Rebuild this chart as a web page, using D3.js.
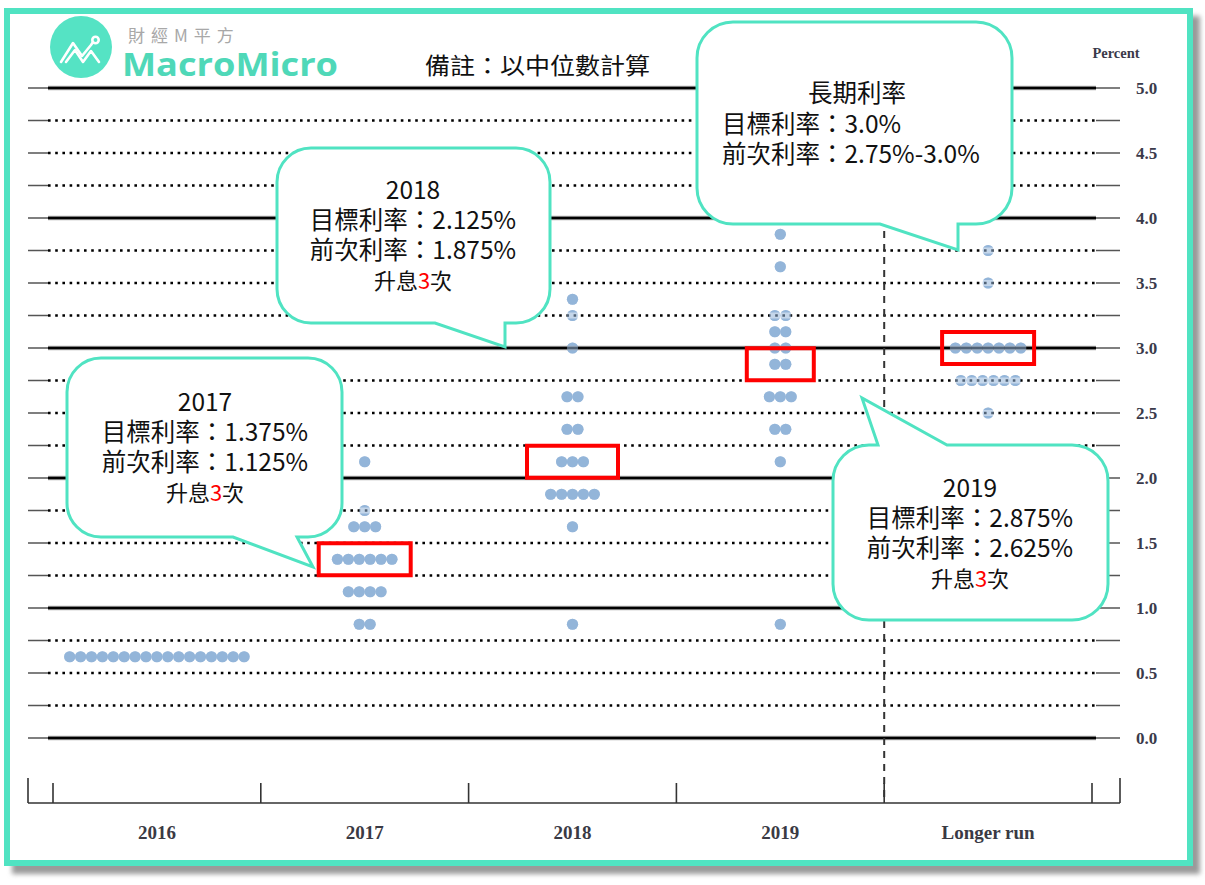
<!DOCTYPE html>
<html>
<head>
<meta charset="utf-8">
<script src="https://cdn.jsdelivr.net/npm/d3@7"></script>
<style>
  body { margin: 0; background: #fff; }
  svg { display: block; }
</style>
</head>
<body>
<svg id="chart" width="1205" height="885"></svg>
<script>
// columns of the dot plot
var years = ["2016", "2017", "2018", "2019", "Longer run"];

// [rate, number of participants] per column
var dots2016 = [[0.625, 17]];
var dots2017 = [[2.125, 1], [1.75, 1], [1.625, 3], [1.375, 6], [1.125, 4], [0.875, 2]];
var dots2018 = [[3.375, 1], [3.25, 1], [3.0, 1], [2.625, 2], [2.375, 2], [2.125, 3], [1.875, 5], [1.625, 1], [0.875, 1]];
var dots2019 = [[3.875, 1], [3.625, 1], [3.25, 2], [3.125, 2], [3.0, 2], [2.875, 2], [2.625, 3], [2.375, 2], [2.125, 1], [0.875, 1]];
var dotsLonger = [[3.75, 1], [3.5, 1], [3.0, 7], [2.75, 6], [2.5, 1]];

// medians highlighted with red boxes
var medianYears = ["2017", "2018", "2019", "Longer run"];
var medianRates = [1.375, 2.125, 2.875, 3.0];

var rateTicks = d3.range(0, 5.001, 0.25);
var labelTicks = d3.range(0, 5.001, 0.5);

// callout texts
var noteLR = ["長期利率", "目標利率：3.0%", "前次利率：2.75%-3.0%"];
var note2018 = ["2018", "目標利率：2.125%", "前次利率：1.875%"];
var note2017 = ["2017", "目標利率：1.375%", "前次利率：1.125%"];
var note2019 = ["2019", "目標利率：2.875%", "前次利率：2.625%"];

var TEAL = "#50e3c2";
var CJK = "'Noto Sans CJK TC', 'Noto Sans', sans-serif";
var SERIF = "'Liberation Serif', 'DejaVu Serif', serif";

var svg = d3.select("#chart");

// frame + shadow
var defs = svg.append("defs");
defs.append("filter").attr("id", "blur")
  .append("feGaussianBlur").attr("stdDeviation", 2.5);
svg.append("rect").attr("x", 12).attr("y", 16).attr("width", 1188).attr("height", 858)
  .attr("fill", "#9a9a9a").attr("filter", "url(#blur)");
svg.append("rect").attr("x", 7).attr("y", 11).attr("width", 1183).attr("height", 852)
  .attr("fill", "#fff").attr("stroke", TEAL).attr("stroke-width", 6);

var x = d3.scaleBand().domain(years).range([53, 1092]);
var y = d3.scaleLinear().domain([0, 5]).range([738, 88]);

var allDots = [dots2016, dots2017, dots2018, dots2019, dotsLonger];
var step = 10.9;

// dots (drawn below the grid, like the original)
var dotData = [];
allDots.forEach(function(col, i) {
  col.forEach(function(row) {
    for (var k = 0; k < row[1]; k++) {
      dotData.push({ year: years[i], rate: row[0], k: k, n: row[1] });
    }
  });
});
function dotX(d) { return x(d.year) + x.bandwidth() / 2 + (d.k - (d.n - 1) / 2) * step; }

svg.append("g").selectAll("circle").data(dotData).join("circle")
  .attr("cx", dotX)
  .attr("cy", function(d) { return y(d.rate); })
  .attr("r", 5.6)
  .attr("fill", "#93b5d9");

// grid lines
var grid = svg.append("g");
rateTicks.forEach(function(t) {
  var whole = Math.abs(t - Math.round(t)) < 1e-6;
  grid.append("line").attr("x1", 28).attr("x2", 1120).attr("y1", y(t)).attr("y2", y(t))
    .attr("stroke", "#555").attr("stroke-width", 1.4);
  if (whole) {
    grid.append("line").attr("x1", 48).attr("x2", 1096).attr("y1", y(t)).attr("y2", y(t))
      .attr("stroke", "#aaa").attr("stroke-width", 4.5);
    grid.append("line").attr("x1", 48).attr("x2", 1096).attr("y1", y(t)).attr("y2", y(t))
      .attr("stroke", "#000").attr("stroke-width", 2.6);
  } else {
    grid.append("rect").attr("x", 48).attr("y", y(t) - 3).attr("width", 1048).attr("height", 6).attr("fill", "#fff");
    grid.append("line").attr("x1", 48).attr("x2", 1096).attr("y1", y(t)).attr("y2", y(t))
      .attr("stroke", "#000").attr("stroke-width", 2.6).attr("stroke-dasharray", "2.6,4.6");
  }
});
// keep the dots visible through the dotted lines
svg.append("g").selectAll("circle").data(dotData).join("circle")
  .attr("cx", dotX)
  .attr("cy", function(d) { return y(d.rate); })
  .attr("r", 5.6)
  .attr("fill", "#93b5d9").attr("fill-opacity", 0.55);

// dashed separator before longer run
svg.append("line").attr("x1", x("Longer run")).attr("x2", x("Longer run"))
  .attr("y1", y(5)).attr("y2", 803)
  .attr("stroke", "#333").attr("stroke-width", 2).attr("stroke-dasharray", "7,6");

// bottom axis: boundary ticks + category labels
var axisY = 803;
svg.append("line").attr("x1", 28).attr("x2", 1120).attr("y1", axisY).attr("y2", axisY)
  .attr("stroke", "#333").attr("stroke-width", 1.6);
var bounds = years.map(function(d) { return x(d); }).concat([x.range()[1]]);
svg.append("g").selectAll("line").data(bounds).join("line")
  .attr("x1", function(d) { return d; }).attr("x2", function(d) { return d; })
  .attr("y1", axisY - 20).attr("y2", axisY)
  .attr("stroke", "#333").attr("stroke-width", 1.6);
[28, 1120].forEach(function(d) {
  svg.append("line").attr("x1", d).attr("x2", d).attr("y1", axisY - 25).attr("y2", axisY)
    .attr("stroke", "#333").attr("stroke-width", 1.6);
});
var xAxis = svg.append("g").attr("transform", "translate(0," + 823 + ")")
  .call(d3.axisBottom(x).tickSize(0).tickPadding(0));
xAxis.select(".domain").remove();
xAxis.selectAll("text").attr("font-family", SERIF).attr("font-size", 19)
  .attr("font-weight", "bold").attr("fill", "#3a3a44").attr("dy", "0.85em");

// right axis labels
var yAxis = svg.append("g").attr("transform", "translate(1136,0)")
  .call(d3.axisRight(y).tickValues(labelTicks).tickFormat(d3.format(".1f")).tickSize(0).tickPadding(0));
yAxis.select(".domain").remove();
yAxis.selectAll("text").attr("font-family", SERIF).attr("font-size", 17)
  .attr("font-weight", "bold").attr("fill", "#3a3a4a");
svg.append("text").attr("x", 1116).attr("y", 58).attr("text-anchor", "middle")
  .attr("font-family", SERIF).attr("font-size", 14.5).attr("font-weight", "bold")
  .attr("fill", "#3a3a4a").text("Percent");

// red boxes on medians
var boxW = { "2017": 92, "2018": 91, "2019": 67, "Longer run": 92 };
svg.append("g").selectAll("rect").data(medianYears).join("rect")
  .attr("x", function(d) { return x(d) + x.bandwidth() / 2 - boxW[d] / 2; })
  .attr("y", function(d, i) { return y(medianRates[i]) - 16; })
  .attr("width", function(d) { return boxW[d]; })
  .attr("height", 32)
  .attr("fill", "none").attr("stroke", "#ff0000").attr("stroke-width", 4);

// speech bubbles
function bubble(x0, y0, x1, y1, r, side, ta, tb, tx, ty) {
  var p = d3.path();
  p.moveTo(x0 + r, y0);
  if (side === "top") { p.lineTo(ta, y0); p.lineTo(tx, ty); p.lineTo(tb, y0); }
  p.lineTo(x1 - r, y0); p.arcTo(x1, y0, x1, y0 + r, r);
  p.lineTo(x1, y1 - r); p.arcTo(x1, y1, x1 - r, y1, r);
  if (side === "bottom") { p.lineTo(tb, y1); p.lineTo(tx, ty); p.lineTo(ta, y1); }
  p.lineTo(x0 + r, y1); p.arcTo(x0, y1, x0, y1 - r, r);
  p.lineTo(x0, y0 + r); p.arcTo(x0, y0, x0 + r, y0, r);
  p.closePath();
  svg.append("path").attr("d", p.toString())
    .attr("fill", "#fff").attr("stroke", TEAL).attr("stroke-width", 3);
}

function noteText(lines, cx, top, hikes) {
  var g = svg.append("g").attr("font-family", CJK).attr("font-size", 24.5).attr("fill", "#111")
    .attr("text-anchor", "middle");
  lines.forEach(function(s, i) {
    g.append("text").attr("x", cx).attr("y", top + i * 30).text(s);
  });
  if (hikes) {
    var t = g.append("text").attr("x", cx).attr("y", top + lines.length * 30).attr("font-size", 22);
    t.append("tspan").text("升息");
    t.append("tspan").attr("fill", "#ff0000").text(hikes);
    t.append("tspan").text("次");
  }
}

bubble(697, 22, 1012, 224, 36, "bottom", 880, 958, 958, 250);
bubble(277, 148, 550, 323, 34, "bottom", 435, 505, 505, 347);
bubble(67, 358, 342, 537, 34, "bottom", 233, 297, 313, 567);
bubble(833, 445, 1108, 620, 36, "top", 878, 947, 862, 398);

// long run note: first line centred, others left aligned
var lr = svg.append("g").attr("font-family", CJK).attr("font-size", 24.5).attr("fill", "#111");
lr.append("text").attr("x", 857).attr("y", 102).attr("text-anchor", "middle").text(noteLR[0]);
lr.append("text").attr("x", 722).attr("y", 133).text(noteLR[1]);
lr.append("text").attr("x", 722).attr("y", 163).text(noteLR[2]);

noteText(note2018, 413, 199, "3");
noteText(note2017, 205, 411, "3");
noteText(note2019, 970, 497, "3");

// header: logo and note
svg.append("circle").attr("cx", 81).attr("cy", 47).attr("r", 31).attr("fill", "#55e3c4");
var icon = svg.append("g").attr("fill", "none").attr("stroke", "#fff").attr("stroke-width", 2.6)
  .attr("stroke-linecap", "round").attr("stroke-linejoin", "round");
icon.append("polyline").attr("points", "61,62 73,43 82,56 91,45 93,42");
icon.append("polyline").attr("points", "66,62 75,50 83,62 91,51 99,62");
icon.append("circle").attr("cx", 95.5).attr("cy", 40).attr("r", 3.2);

svg.append("text").attr("x", 128).attr("y", 42).attr("font-family", CJK).attr("font-size", 17)
  .attr("fill", "#a8a8a8").attr("letter-spacing", 6).text("財經M平方");
svg.append("text").attr("x", 122).attr("y", 76).attr("font-family", "'Open Sans', sans-serif")
  .attr("font-size", 32).attr("font-weight", "bold").attr("fill", "#4fd8b8")
  .attr("textLength", 216).attr("lengthAdjust", "spacingAndGlyphs").text("MacroMicro");
svg.append("text").attr("x", 425).attr("y", 74).attr("font-family", CJK).attr("font-size", 23)
  .attr("fill", "#111").attr("textLength", 225).attr("lengthAdjust", "spacingAndGlyphs")
  .text("備註：以中位數計算");
</script>
</body>
</html>
